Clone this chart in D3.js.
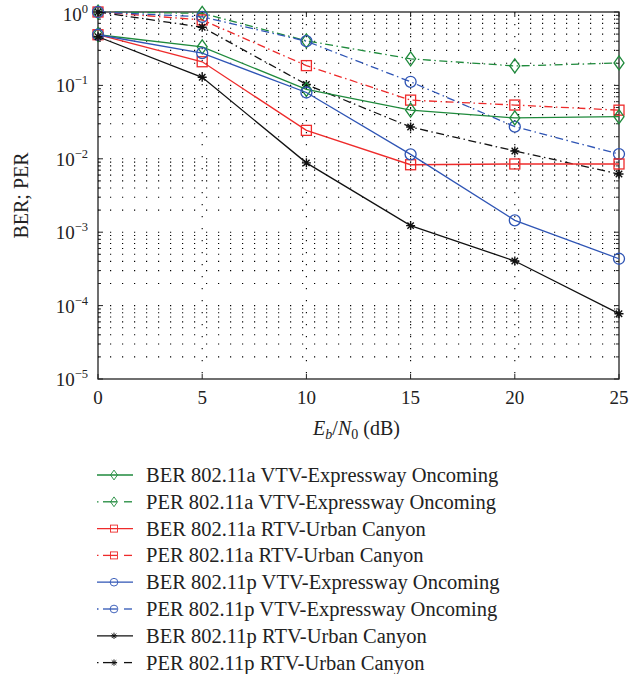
<!DOCTYPE html>
<html>
<head>
<meta charset="utf-8">
<script src="https://cdn.jsdelivr.net/npm/d3@7"></script>
<style>
  body { margin: 0; background: #fff; }
  text { font-family: "Liberation Serif", "DejaVu Serif", serif; fill: #222; }
</style>
</head>
<body>
<div id="chart"></div>
<script>
// Eb/N0 values (dB)
var snr = [0, 5, 10, 15, 20, 25];

// series
var berA_vtv = [0.49, 0.335, 0.088, 0.046, 0.036, 0.0375];
var perA_vtv = [1.0, 0.96, 0.405, 0.23, 0.184, 0.202];
var berA_rtv = [0.49, 0.21, 0.0244, 0.0083, 0.0085, 0.0085];
var perA_rtv = [1.0, 0.78, 0.186, 0.063, 0.054, 0.046];
var berP_vtv = [0.49, 0.275, 0.08, 0.0115, 0.00145, 0.000435];
var perP_vtv = [1.0, 0.86, 0.4, 0.112, 0.0274, 0.0116];
var berP_rtv = [0.46, 0.129, 0.0088, 0.00123, 0.000405, 0.0000776];
var perP_rtv = [1.0, 0.62, 0.103, 0.0271, 0.0128, 0.0062];

var names = [
  "BER 802.11a VTV-Expressway Oncoming",
  "PER 802.11a VTV-Expressway Oncoming",
  "BER 802.11a RTV-Urban Canyon",
  "PER 802.11a RTV-Urban Canyon",
  "BER 802.11p VTV-Expressway Oncoming",
  "PER 802.11p VTV-Expressway Oncoming",
  "BER 802.11p RTV-Urban Canyon",
  "PER 802.11p RTV-Urban Canyon"
];
var values = [berA_vtv, perA_vtv, berA_rtv, perA_rtv, berP_vtv, perP_vtv, berP_rtv, perP_rtv];
var colors = ["#1f8a3c", "#1f8a3c", "#ee2b2b", "#ee2b2b", "#2f55b5", "#2f55b5", "#111", "#111"];
var markers = ["diamond", "diamond", "square", "square", "circle", "circle", "star", "star"];
var xTicks = [0, 5, 10, 15, 20, 25];
var yExps = [0, -1, -2, -3, -4, -5];

var series = names.map(function(n, i) {
  return {name: n, vals: values[i], color: colors[i], marker: markers[i], dashed: n.indexOf("PER") === 0};
});

var W = 640, H = 674;
var margin = {top: 12, left: 98, right: 21, bottom: 295};
var width = W - margin.left - margin.right,
    height = H - margin.top - margin.bottom;

var svg = d3.select("#chart").append("svg")
    .attr("width", W).attr("height", H);
var g = svg.append("g")
    .attr("transform", "translate(" + margin.left + "," + margin.top + ")");

var x = d3.scaleLinear().domain([0, 25]).range([0, width]);
var y = d3.scaleLog().domain([1e-5, 1]).range([height, 0]);

// grid: horizontal dotted at every log tick, vertical at major x ticks
var minor = [];
for (var e = -5; e < 0; e++) {
  for (var k = 1; k < 10; k++) minor.push(k * Math.pow(10, e));
}
var grid = g.append("g").attr("stroke", "#000").attr("stroke-width", 1.1)
    .attr("stroke-dasharray", "1.2,10.8");
grid.selectAll("line.h").data(minor.slice(1)).enter().append("line")
    .attr("x1", 0).attr("x2", width)
    .attr("y1", function(d) { return y(d); }).attr("y2", function(d) { return y(d); });
grid.selectAll("line.v").data(xTicks.slice(1, -1)).enter().append("line")
    .attr("y1", 0).attr("y2", height)
    .attr("x1", function(d) { return x(d); }).attr("x2", function(d) { return x(d); });

// ticks inward on all four sides
var ticks = g.append("g").attr("stroke", "#222").attr("stroke-width", 1);
xTicks.forEach(function(t) {
  ticks.append("line").attr("x1", x(t)).attr("x2", x(t)).attr("y1", height).attr("y2", height - 5);
  ticks.append("line").attr("x1", x(t)).attr("x2", x(t)).attr("y1", 0).attr("y2", 5);
});
minor.concat([1]).forEach(function(d) {
  var len = Math.abs(Math.log10(d) - Math.round(Math.log10(d))) < 1e-9 ? 5 : 3;
  ticks.append("line").attr("x1", 0).attr("x2", len).attr("y1", y(d)).attr("y2", y(d));
  ticks.append("line").attr("x1", width).attr("x2", width - len).attr("y1", y(d)).attr("y2", y(d));
});

// frame
g.append("rect").attr("width", width).attr("height", height)
    .attr("fill", "none").attr("stroke", "#222").attr("stroke-width", 1.3);

// tick labels
g.selectAll("text.xt").data(xTicks).enter().append("text")
    .attr("x", function(d) { return x(d); }).attr("y", height + 25)
    .attr("text-anchor", "middle").attr("font-size", 19)
    .text(function(d) { return d; });

var yl = g.selectAll("text.yt").data(yExps).enter().append("text")
    .attr("x", -10).attr("y", function(d) { return y(Math.pow(10, d)) + (d === 0 ? 9 : 7); })
    .attr("text-anchor", "end").attr("font-size", 19);
yl.append("tspan").text("10");
yl.append("tspan").attr("dy", -8).attr("font-size", 12.5)
    .text(function(d) { return d === 0 ? "0" : "\u2212" + (-d); });

// axis titles
g.append("text").attr("transform", "translate(-70," + (height / 2) + ") rotate(-90)")
    .attr("text-anchor", "middle").attr("font-size", 20).text("BER; PER");

var xl = g.append("text").attr("x", width / 2 - 2).attr("y", height + 56)
    .attr("text-anchor", "middle").attr("font-size", 20);
xl.append("tspan").attr("font-style", "italic").text("E");
xl.append("tspan").attr("font-style", "italic").attr("font-size", 14).attr("dy", 4).text("b");
xl.append("tspan").attr("dy", -4).text("/");
xl.append("tspan").attr("font-style", "italic").text("N");
xl.append("tspan").attr("font-size", 14).attr("dy", 4).text("0");
xl.append("tspan").attr("dy", -4).text(" (dB)");

// markers
function drawMarker(sel, type, color) {
  if (type === "diamond") {
    sel.append("path").attr("d", "M0,-7L5,0L0,7L-5,0Z")
      .attr("fill", "none").attr("stroke", color).attr("stroke-width", 1.3);
  } else if (type === "square") {
    sel.append("rect").attr("x", -5).attr("y", -5).attr("width", 10).attr("height", 10)
      .attr("fill", "none").attr("stroke", color).attr("stroke-width", 1.3);
  } else if (type === "circle") {
    sel.append("circle").attr("r", 5.5)
      .attr("fill", "none").attr("stroke", color).attr("stroke-width", 1.3);
  } else {
    sel.append("path").attr("d", "M-4.5,0H4.5M0,-4.5V4.5M-3.2,-3.2L3.2,3.2M-3.2,3.2L3.2,-3.2")
      .attr("fill", "none").attr("stroke", color).attr("stroke-width", 1.4);
  }
}

var dashPat = "8,3.5,1.5,3.5";
var line = d3.line().x(function(d, i) { return x(snr[i]); }).y(function(d) { return y(d); });

// draw PER first, BER over
var order = [1, 3, 5, 7, 0, 2, 4, 6];
order.forEach(function(i) {
  var s = series[i];
  g.append("path").datum(s.vals).attr("d", line)
    .attr("fill", "none").attr("stroke", s.color).attr("stroke-width", 1.3)
    .attr("stroke-dasharray", s.dashed ? dashPat : null);
  s.vals.forEach(function(v, j) {
    var m = g.append("g").attr("transform", "translate(" + x(snr[j]) + "," + y(v) + ")");
    drawMarker(m, s.marker, s.color);
  });
});

// legend
var leg = svg.append("g").attr("transform", "translate(97,475)");
series.forEach(function(s, i) {
  var row = leg.append("g").attr("transform", "translate(0," + (i * 26.8) + ")");
  if (s.dashed) {
    row.append("line").attr("x1", 0).attr("x2", 1.5).attr("stroke", s.color).attr("stroke-width", 1.3);
    row.append("line").attr("x1", 6).attr("x2", 20).attr("stroke", s.color).attr("stroke-width", 1.3);
    row.append("line").attr("x1", 27).attr("x2", 35).attr("stroke", s.color).attr("stroke-width", 1.3);
  } else {
    row.append("line").attr("x1", 0).attr("x2", 36).attr("stroke", s.color).attr("stroke-width", 1.3);
  }
  var m = row.append("g").attr("transform", "translate(17,0) scale(0.7)");
  drawMarker(m, s.marker, s.color);
  row.append("text").attr("x", 49).attr("y", 7).attr("font-size", 20.5).text(s.name);
});
</script>
</body>
</html>
